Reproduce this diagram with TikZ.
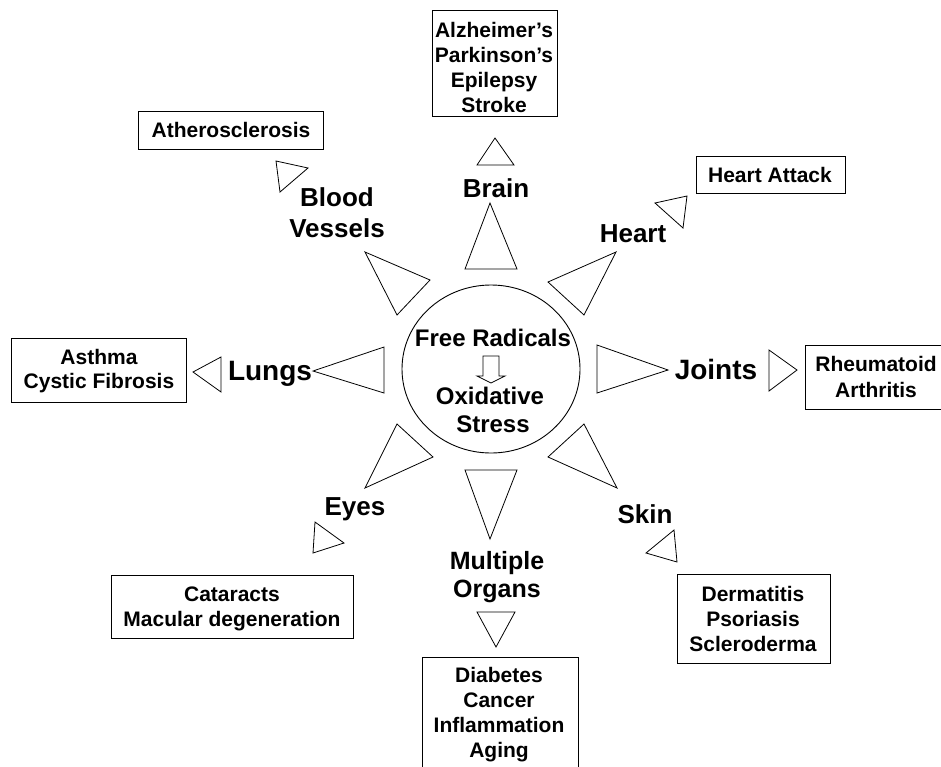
\documentclass[tikz,border=0pt]{standalone}
\usepackage{fontspec}
\setmainfont{Liberation Sans}
\usetikzlibrary{shapes.geometric}
\begin{document}
\begin{tikzpicture}[x=1pt,y=-1pt,
  tri/.style={draw, line width=0.8pt, line join=miter},
  lbl/.style={font=\fontsize{26}{31}\selectfont\bfseries, inner sep=0pt, align=center},
  biglbl/.style={lbl, font=\fontsize{28}{31}\selectfont\bfseries},
  box/.style={draw, line width=1pt, inner sep=0pt},
  boxtxt/.style={font=\fontsize{21}{25}\selectfont\bfseries, inner sep=0pt, align=center},
  coretxt/.style={font=\fontsize{24}{28}\selectfont\bfseries, inner sep=0pt}]
\clip (0,0) rectangle (941,766);
\fill[white] (0,0) rectangle (941,766);

% central circle
\node[ellipse, draw, line width=0.9pt, minimum width=178pt, minimum height=168pt, inner sep=0pt] (core) at (491,369) {};
\node[coretxt, anchor=base] (fr) at (493,346) {Free Radicals};
\node[coretxt, anchor=base] (ox) at (490,404) {Oxidative};
\node[coretxt, anchor=base] (st) at (493,432) {Stress};
\draw[line width=0.8pt, line join=miter] (483,356) -- (499,356) -- (499,376) -- (505,376) -- (491,383) -- (477,376) -- (483,376) -- cycle;

% big triangles
\draw[tri] (490,203) -- (465,269) -- (517,269) -- cycle;   % brain
\draw[tri] (365,252) -- (430,280) -- (397,315) -- cycle;   % blood vessels
\draw[tri] (616,252) -- (548,282) -- (584,315) -- cycle;   % heart
\draw[tri] (313,371) -- (384,347) -- (384,393) -- cycle;   % lungs
\draw[tri] (668,370) -- (597,345) -- (597,393) -- cycle;   % joints
\draw[tri] (365,488) -- (397,424) -- (433,457) -- cycle;   % eyes
\draw[tri] (617,488) -- (584,424) -- (548,457) -- cycle;   % skin
\draw[tri] (490,539) -- (465,470) -- (517,470) -- cycle;   % multiple organs

% small triangles
\draw[tri] (495,138) -- (477,165) -- (514,165) -- cycle;
\draw[tri] (276,161) -- (308,168) -- (280,192) -- cycle;
\draw[tri] (687,196) -- (655,203) -- (683,228) -- cycle;
\draw[tri] (193,372) -- (221,357) -- (221,392) -- cycle;
\draw[tri] (797,370) -- (769,350) -- (769,391) -- cycle;
\draw[tri] (344,543) -- (315,522) -- (313,553) -- cycle;
\draw[tri] (646,553) -- (674,530) -- (677,562) -- cycle;
\draw[tri] (496,647) -- (477,612) -- (515,612) -- cycle;

% organ labels
\node[lbl, anchor=base] (brain) at (496,197) {Brain};
\node[lbl] (bv) at (337,213) {Blood\\Vessels};
\node[lbl, anchor=base] (heart) at (633,242) {Heart};
\node[biglbl, anchor=base] (lungs) at (270,380) {Lungs};
\node[biglbl, anchor=base] (joints) at (716,379) {Joints};
\node[lbl, anchor=base] (eyes) at (355,515) {Eyes};
\node[lbl, anchor=base] (skin) at (645,523) {Skin};
\node[lbl, font=\fontsize{25}{28}\selectfont\bfseries] (mo) at (497,577) {Multiple\\Organs};

% disease boxes
\node[box, minimum width=125pt, minimum height=106pt] (brainbox) at (494.5,63) {};
\node[boxtxt] (braintxt) at (494,67) {Alzheimer’s\\Parkinson’s\\Epilepsy\\Stroke};

\node[box, minimum width=185pt, minimum height=38pt] (athbox) at (230.5,130) {};
\node[boxtxt, anchor=base] (athtxt) at (231,137) {Atherosclerosis};

\node[box, minimum width=149pt, minimum height=37pt] (heartbox) at (770.5,174.5) {};
\node[boxtxt, anchor=base] (hearttxt) at (770,182) {Heart Attack};

\node[box, minimum width=175pt, minimum height=64pt] (lungbox) at (98.5,370) {};
\node[boxtxt, font=\fontsize{21}{24}\selectfont\bfseries] (lungtxt) at (99,371) {Asthma\\Cystic Fibrosis};

\node[box, minimum width=142pt, minimum height=64pt] (jointbox) at (876,377) {};
\node[boxtxt, font=\fontsize{21}{26}\selectfont\bfseries] (jointtxt) at (876,377) {Rheumatoid\\Arthritis};

\node[box, minimum width=242pt, minimum height=63pt] (eyebox) at (232,606.5) {};
\node[boxtxt] (eyetxt) at (232,609) {Cataracts\\Macular degeneration};

\node[box, minimum width=153pt, minimum height=89pt] (skinbox) at (753.5,618.5) {};
\node[boxtxt] (skintxt) at (753,619) {Dermatitis\\Psoriasis\\Scleroderma};

\node[box, minimum width=156pt, minimum height=118pt] (mobox) at (500,716) {};
\node[boxtxt] (motxt) at (499,714.5) {Diabetes\\Cancer\\Inflammation\\Aging};
\end{tikzpicture}
\end{document}
